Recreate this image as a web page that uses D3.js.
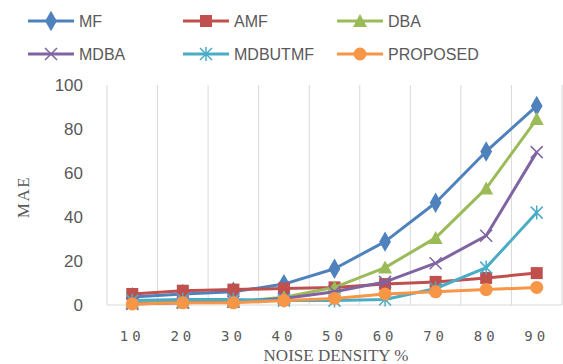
<!DOCTYPE html>
<html><head><meta charset="utf-8">
<script src="https://cdn.jsdelivr.net/npm/d3@7"></script>
<style>body{margin:0;background:#fff}svg{display:block}</style>
</head><body><svg id="c" width="563" height="364"></svg>
<script>
const categories = ["10","20","30","40","50","60","70","80","90"];
const seriesNames = ["MF","AMF","DBA","MDBA","MDBUTMF","PROPOSED"];
const MF = [3.6, 5, 6, 9.5, 16.5, 28.8, 46.5, 69.8, 90.5];
const AMF = [5, 6.5, 7, 7.5, 8, 9.5, 10.5, 12.3, 14.5];
const DBA = [1, 1.2, 1.5, 3.5, 8, 17, 30.5, 53, 84.5];
const MDBA = [0.5, 1, 1.5, 3, 6, 10.5, 19, 31.5, 69.5];
const MDBUTMF = [2, 2.5, 2.5, 2, 2, 2.5, 7.5, 17, 42];
const PROPOSED = [0.5, 1, 1, 2, 3, 5, 6, 7, 8];
const yTicks = [0,20,40,60,80,100];
const colors = ["#4F81BD","#C0504D","#9BBB59","#8064A2","#4BACC6","#F79646"];
const markers = ["diamond","square","triangle","x","asterisk","circle"];
const allValues = [MF, AMF, DBA, MDBA, MDBUTMF, PROPOSED];

(function(){
const svg = d3.select("#c");
const pl = 107, pr = 562, pt = 85, pb = 305;
const x = d3.scaleBand().domain(categories).range([pl, pr]);
const y = d3.scaleLinear().domain([0,100]).range([pb, pt]);

const bounds = categories.map(c => x(c)).concat([pr]);
svg.append("g").selectAll("line").data(bounds).join("line")
  .attr("x1", d=>d).attr("x2", d=>d).attr("y1", pt).attr("y2", pb)
  .attr("stroke", "#d9d9d9").attr("stroke-width", 1);
svg.append("line").attr("x1", pl).attr("x2", pr).attr("y1", pb).attr("y2", pb)
  .attr("stroke", "#d9d9d9").attr("stroke-width", 1);

svg.append("g").selectAll("text").data(yTicks).join("text")
  .attr("x", 83).attr("y", d=>y(d)).attr("dy", "0.35em").attr("text-anchor","end")
  .attr("font-family","Liberation Sans, Arial, sans-serif").attr("font-size", 17)
  .attr("fill","#595959").text(d=>d);

svg.append("g").selectAll("text").data(categories).join("text")
  .attr("x", d=>x(d)+x.bandwidth()/2).attr("y", 341).attr("text-anchor","middle")
  .attr("font-family","DejaVu Sans Mono, monospace").attr("font-size", 14)
  .attr("letter-spacing", "4px")
  .attr("fill","#595959").text(d=>d);

svg.append("text").attr("x", 336).attr("y", 361).attr("text-anchor","middle")
  .attr("font-family","Liberation Serif, serif").attr("font-size", 17)
  .attr("fill","#595959").text("NOISE DENSITY %");
svg.append("text").attr("transform","translate(29,197) rotate(-90)").attr("text-anchor","middle")
  .attr("font-family","Liberation Serif, serif").attr("font-size", 17).attr("letter-spacing","1.5px")
  .attr("fill","#595959").text("MAE");

function drawMarker(g, type, cx, cy, color) {
  if (type === "diamond") {
    g.append("path").attr("d", d3.symbol(d3.symbolDiamond, 120)()).attr("transform",`translate(${cx},${cy})`).attr("fill", color);
  } else if (type === "square") {
    g.append("rect").attr("x", cx-6).attr("y", cy-6).attr("width",12).attr("height",12).attr("fill", color);
  } else if (type === "triangle") {
    g.append("path").attr("d", `M${cx},${cy-7}L${cx+7},${cy+6}L${cx-7},${cy+6}Z`).attr("fill", color);
  } else if (type === "x") {
    g.append("path").attr("d", `M${cx-6},${cy-6}L${cx+6},${cy+6}M${cx-6},${cy+6}L${cx+6},${cy-6}`).attr("stroke", color).attr("stroke-width",1.5);
  } else if (type === "asterisk") {
    g.append("path").attr("d", `M${cx-6},${cy-6}L${cx+6},${cy+6}M${cx-6},${cy+6}L${cx+6},${cy-6}M${cx},${cy-7}L${cx},${cy+7}`).attr("stroke", color).attr("stroke-width",1.5);
  } else if (type === "circle") {
    g.append("circle").attr("cx", cx).attr("cy", cy).attr("r", 6.5).attr("fill", color);
  }
}

const line = d3.line().x((d,i)=>x(categories[i])+x.bandwidth()/2).y(d=>y(d));
allValues.forEach((vals, si) => {
  const g = svg.append("g");
  g.append("path").attr("d", line(vals)).attr("fill","none").attr("stroke", colors[si]).attr("stroke-width", 3).attr("stroke-linejoin","round");
  vals.forEach((v,i) => drawMarker(g, markers[si], x(categories[i])+x.bandwidth()/2, y(v), colors[si]));
});

const legendPos = [[28,21],[183,21],[337,21],[28,54],[183,54],[337,54]];
seriesNames.forEach((name, si) => {
  const [lx, ly] = legendPos[si];
  const g = svg.append("g");
  g.append("line").attr("x1", lx).attr("x2", lx+46).attr("y1", ly).attr("y2", ly).attr("stroke", colors[si]).attr("stroke-width", 3);
  drawMarker(g, markers[si], lx+23, ly, colors[si]);
  g.append("text").attr("x", lx+51).attr("y", ly).attr("dy","0.35em")
    .attr("font-family","Liberation Sans, Arial, sans-serif").attr("font-size", 16)
    .attr("fill","#595959").text(name);
});
})();
</script></body></html>
